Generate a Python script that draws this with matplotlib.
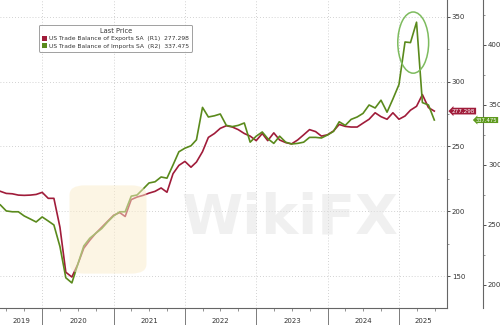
import numpy as np
import pandas as pd
import matplotlib
matplotlib.use('Agg')
import matplotlib.pyplot as plt
import matplotlib.dates as mdates
import matplotlib.transforms as mtransforms
from matplotlib.patches import Ellipse, Patch, FancyBboxPatch

# monthly values, May 2019 .. Jun 2025
dates = pd.date_range('2019-05-31', periods=74, freq='ME')
exports = [215.4, 213.8, 213.5, 212.5, 212.3, 212.5, 213.0, 214.6,
           210.0, 210.0, 187.7, 153.0, 149.3, 159.0, 171.5, 177.7, 183.0, 187.7, 192.3, 197.0,
           199.0, 196.0, 209.0, 211.0, 212.3, 214.0, 215.4, 218.0, 214.7, 229.0, 235.4, 238.5,
           234.0, 238.0, 246.0, 257.0, 260.0, 264.0, 266.0, 265.0, 263.0, 260.0, 258.0, 254.5,
           260.0, 254.5, 260.5, 255.0, 253.0, 252.0, 255.0, 259.0, 263.0, 261.5, 258.0, 259.0,
           262.0, 267.0, 265.5, 265.0, 265.0, 268.0, 271.0, 276.0, 273.0, 271.0, 276.0, 271.0,
           273.5, 278.0, 281.0, 290.0, 280.0, 277.298]
imports = [266.7, 261.7, 261.0, 261.0, 257.5, 255.0, 252.5, 256.7,
           253.3, 250.0, 232.0, 206.0, 201.7, 217.0, 232.5, 239.0, 243.0, 247.0, 252.5, 257.5,
           261.0, 261.0, 274.0, 275.0, 280.0, 285.0, 286.0, 290.0, 289.0, 300.0, 311.0, 314.0,
           316.0, 321.0, 348.0, 340.0, 341.0, 342.5, 333.0, 332.0, 333.0, 335.0, 319.0, 324.0,
           327.5, 322.0, 318.0, 324.0, 319.0, 317.5, 318.0, 319.0, 323.0, 323.0, 322.5, 325.0,
           328.0, 336.0, 333.0, 338.0, 340.0, 343.0, 350.0, 347.5, 354.0, 344.0, 355.0, 367.0,
           402.5, 402.0, 419.0, 352.0, 350.0, 337.475]
years = [2019, 2020, 2021, 2022, 2023, 2024, 2025]
exp_label = 'US Trade Balance of Exports SA  (R1)  277.298'
imp_label = 'US Trade Balance of Imports SA  (R2)  337.475'

red = '#a01c3a'
green = '#5a8a1c'
txt = '#333333'

fig = plt.figure(figsize=(5, 3.25), dpi=100)
ax = fig.add_axes([0, 17/325, 447/500, 1 - 17/325])
ax2 = ax.twinx()

# watermark
fig.patches.append(FancyBboxPatch((72/500, 1 - 272/325), 72/500, 85/325,
                                  boxstyle='round,pad=0.005,rounding_size=0.03',
                                  transform=fig.transFigure, facecolor='#fbeccb',
                                  edgecolor='none', alpha=0.5, zorder=0))
fig.text(290/500, 1 - 218/325, 'WikiFX', fontsize=40, fontweight='bold',
         color='#e2e2e2', alpha=0.5, ha='center', va='center', zorder=0)

ax.plot(dates, exports, color=red, lw=1.2, zorder=3)
ax2.plot(dates, imports, color=green, lw=1.2, zorder=3)

x0 = pd.Timestamp('2019-05-29')
x1 = pd.Timestamp('2025-09-03')
ax.set_xlim(x0, x1)
ax.set_ylim(125.4, 363)
ax2.set_ylim(180.8, 437.5)

# spines
for s in ['left', 'top']:
    ax.spines[s].set_visible(False)
    ax2.spines[s].set_visible(False)
ax2.spines['bottom'].set_visible(False)
for s in ['right', 'bottom']:
    ax.spines[s].set_color('#666666')
    ax.spines[s].set_linewidth(0.8)
ax2.spines['right'].set_position(('outward', 26))
ax2.spines['right'].set_color('#666666')
ax2.spines['right'].set_linewidth(0.8)

# y axes
ax.yaxis.tick_right()
ax.set_yticks([150, 200, 250, 300, 350])
ax.set_yticks([175, 225, 275, 325], minor=True)
ax2.set_yticks([200, 250, 300, 350, 400])
ax2.set_yticks([225, 275, 325, 375, 425], minor=True)
for a in (ax, ax2):
    a.tick_params(axis='y', which='major', labelsize=5, colors=txt, length=2.5, width=0.6, pad=1)
    a.tick_params(axis='y', which='minor', length=1.5, width=0.5, colors='#666666')

# x axis: year boundaries and labels
bounds = [pd.Timestamp(f'{y}-01-01') for y in years[1:]]
ax.set_xticks(bounds)
ax.set_xticklabels([])
ax.xaxis.set_minor_locator(mdates.MonthLocator(bymonth=[4, 7, 10]))
ax.tick_params(axis='x', which='major', length=12, width=0.6, colors='#666666')
ax.tick_params(axis='x', which='minor', length=2, width=0.5, colors='#666666')
trans = mtransforms.blended_transform_factory(ax.transData, ax.transAxes)
for y in years:
    a = max(pd.Timestamp(f'{y}-01-01'), x0)
    b = min(pd.Timestamp(f'{y + 1}-01-01'), x1)
    mid = a + (b - a) / 2
    ax.text(mid, -0.042, str(y), transform=trans, fontsize=5, color=txt,
            ha='center', va='center')

ax.grid(True, which='major', linestyle=(0, (1, 2.5)), color='#c4c4c4', linewidth=0.6)

# highlight ellipse
cx = mdates.date2num(pd.Timestamp('2025-03-14'))
ax2.add_patch(Ellipse((cx, 402), width=158, height=51, fill=False,
                      edgecolor='#7dbb5e', lw=1.1, zorder=4))

# last value badges
tr1 = mtransforms.blended_transform_factory(fig.transFigure, ax.transData)
ax.text(452/500, exports[-1], '277.298', transform=tr1, fontsize=4.1, color='white',
        ha='left', va='center', clip_on=False, zorder=5,
        bbox=dict(boxstyle='larrow,pad=0.15', facecolor=red, edgecolor='none'))
tr2 = mtransforms.blended_transform_factory(fig.transFigure, ax2.transData)
ax2.text(476/500, imports[-1], '337.475', transform=tr2, fontsize=3.8, color='white',
         ha='left', va='center', clip_on=False, zorder=5,
         bbox=dict(boxstyle='larrow,pad=0.1', facecolor='#5e9a1e', edgecolor='none'))

# legend
handles = [Patch(facecolor=red, edgecolor='none'), Patch(facecolor=green, edgecolor='none')]
leg = ax.legend(handles, [exp_label, imp_label], title='Last Price', loc='upper left',
                bbox_to_anchor=(39/447, 1 - 25/308), borderaxespad=0, fontsize=4.3,
                title_fontsize=4.8, frameon=True, fancybox=True, handlelength=0.9,
                handleheight=0.9, handletextpad=0.3, borderpad=0.5, labelspacing=0.3)
leg.get_frame().set_edgecolor('#888888')
leg.get_frame().set_linewidth(0.7)
for t in leg.get_texts():
    t.set_color(txt)
leg.get_title().set_color(txt)
leg.set_zorder(6)

plt.savefig('out.png', dpi=100)
